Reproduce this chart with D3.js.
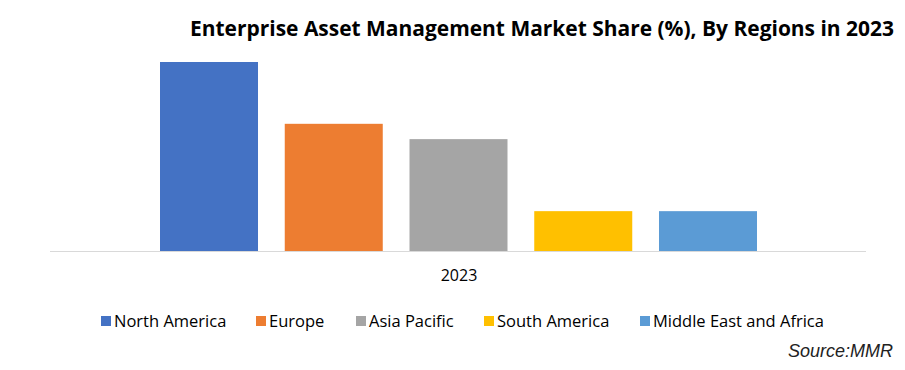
<!DOCTYPE html>
<html>
<head>
<meta charset="utf-8">
<script src="https://cdn.jsdelivr.net/npm/d3@7"></script>
<style>
  body { margin: 0; background: #fff; }
  svg { display: block; }
</style>
</head>
<body>
<div id="chart"></div>
<script>
// data
var regions = ["North America", "Europe", "Asia Pacific", "South America", "Middle East and Africa"];
var shares = [37.0, 24.9, 21.9, 7.8, 7.8];
var colors = ["#4472c4", "#ed7d31", "#a5a5a5", "#ffc000", "#5b9bd5"];
var year = "2023";

var width = 905, height = 370;

var svg = d3.select("#chart")
  .append("svg")
    .attr("width", width)
    .attr("height", height);

// title
svg.append("text")
  .attr("x", 894)
  .attr("y", 36)
  .attr("text-anchor", "end")
  .attr("textLength", 704)
  .attr("lengthAdjust", "spacingAndGlyphs")
  .style("font-family", "'Open Sans', sans-serif")
  .style("font-weight", "bold")
  .style("font-size", "21px")
  .style("fill", "#000")
  .text("Enterprise Asset Management Market Share (%), By Regions in 2023");

// plot area
var plot = {left: 50, right: 866, top: 62, bottom: 251};

var x = d3.scaleBand()
  .domain(regions)
  .range([160, 757])
  .paddingInner(0.2144)
  .paddingOuter(0);

var y = d3.scaleLinear()
  .domain([0, d3.max(shares)])
  .range([plot.bottom, plot.top]);

svg.append("g")
  .selectAll("rect")
  .data(regions)
  .enter()
  .append("rect")
    .attr("x", function(d) { return x(d); })
    .attr("y", function(d, i) { return y(shares[i]); })
    .attr("width", x.bandwidth())
    .attr("height", function(d, i) { return plot.bottom - y(shares[i]); })
    .attr("fill", function(d, i) { return colors[i]; });

// axis line
svg.append("line")
  .attr("x1", plot.left)
  .attr("x2", plot.right)
  .attr("y1", plot.bottom + 0.5)
  .attr("y2", plot.bottom + 0.5)
  .attr("stroke", "#d9d9d9")
  .attr("stroke-width", 1);

svg.append("text")
  .attr("x", 459)
  .attr("y", 281)
  .attr("text-anchor", "middle")
  .style("font-family", "'Open Sans', sans-serif")
  .style("font-size", "16px")
  .style("fill", "#000")
  .text(year);

// legend
var legendX = [101, 256, 356, 484, 640];
var legend = svg.append("g")
  .selectAll("g")
  .data(regions)
  .enter()
  .append("g")
    .attr("transform", function(d, i) { return "translate(" + legendX[i] + ",316)"; });

legend.append("rect")
  .attr("width", 10)
  .attr("height", 10)
  .attr("fill", function(d, i) { return colors[i]; });

legend.append("text")
  .attr("x", 13)
  .attr("y", 10.5)
  .style("font-family", "'Open Sans', sans-serif")
  .style("font-size", "16.5px")
  .style("fill", "#000")
  .text(function(d) { return d; });

// source
svg.append("text")
  .attr("x", 893)
  .attr("y", 357)
  .attr("text-anchor", "end")
  .style("font-family", "'Liberation Sans', Arial, sans-serif")
  .style("font-style", "italic")
  .style("font-size", "18px")
  .style("fill", "#222")
  .text("Source:MMR");
</script>
</body>
</html>
